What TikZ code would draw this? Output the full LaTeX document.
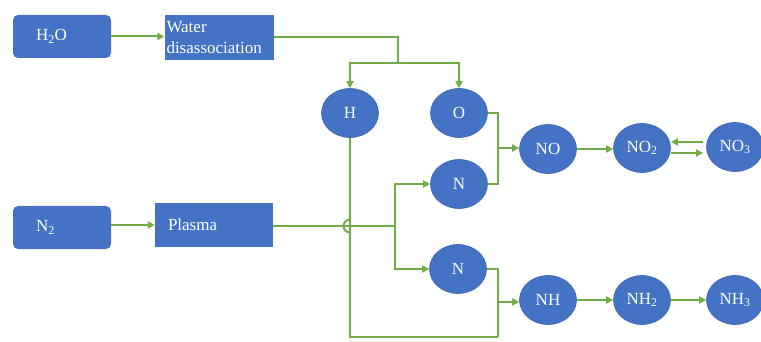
\documentclass[tikz,border=0pt]{standalone}
\usepackage{fontspec}
\setmainfont{Liberation Serif}
\usetikzlibrary{arrows.meta,shapes.geometric}
\definecolor{nodeblue}{HTML}{4472C4}
\definecolor{edgeblue}{HTML}{3A62AE}
\definecolor{linegreen}{HTML}{70AD47}
\begin{document}
\begin{tikzpicture}[x=1pt,y=-1pt,
  font=\fontsize{17}{21}\selectfont,
  boxnode/.style={rectangle, fill=nodeblue, draw=none, text=white, align=left, inner ysep=0pt},
  roundbox/.style={boxnode, rounded corners=5pt},
  blob/.style={ellipse, fill=nodeblue, draw=edgeblue, line width=0.6pt, text=white, minimum width=57pt, minimum height=49pt, inner sep=0pt},
  conn/.style={draw=linegreen, line width=2pt},
  arr/.style={conn, -{Triangle[length=7pt,width=7pt]}}]
\useasboundingbox (0,0) rectangle (761,342);
% boxes
\node[roundbox, minimum width=98pt, minimum height=43pt, text width=52pt, inner xsep=23pt] (h2o) at (62,36.5) {H\textsubscript{2}O};
\node[boxnode, minimum width=109pt, minimum height=45pt, text width=105pt, inner xsep=2pt] (water) at (219,37.5) {Water\\disassociation};
\node[roundbox, minimum width=98pt, minimum height=43pt, text width=52pt, inner xsep=23pt] (n2) at (62,227.5) {N\textsubscript{2}};
\node[boxnode, minimum width=118pt, minimum height=44pt, text width=92pt, inner xsep=13pt] (plasma) at (214,225) {Plasma};
% ellipses
\node[blob] (H) at (350,113) {H};
\node[blob] (O) at (459,113) {O};
\node[blob] (Nup) at (459,184) {N};
\node[blob] (Ndn) at (458,269) {N};
\node[blob] (NO) at (548,149) {NO};
\node[blob] (NOtwo) at (642,148) {NO\textsubscript{2}};
\node[blob] (NOthree) at (735,147) {NO\textsubscript{3}};
\node[blob] (NH) at (548,300) {NH};
\node[blob] (NHtwo) at (642,300) {NH\textsubscript{2}};
\node[blob] (NHthree) at (735,300) {NH\textsubscript{3}};
% junction points
\coordinate (split) at (398,63);
\coordinate (jo) at (498,148);
\coordinate (hop) at (350,226);
\coordinate (br) at (395,226);
\coordinate (bot) at (498,337);
\coordinate (jn) at (498,302);
\coordinate (upy) at (0,142);
\coordinate (dny) at (0,153);
% connectors
\draw[arr] (h2o.east) -- (h2o.east -| water.west);
\draw[conn] (water.east) -| (split);
\draw[arr] (split) -| (H.north);
\draw[arr] (split) -| (O.north);
\draw[conn] (O.east) -| (jo) |- (Nup.east);
\draw[arr] (jo) -- (jo -| NO.west);
\draw[arr] (NO.east) -- (NO.east -| NOtwo.west);
\draw[arr, shorten <=3pt] (NOthree.west |- upy) -- (NOtwo.east |- upy);
\draw[arr, shorten >=3pt] (NOtwo.east |- dny) -- (NOthree.west |- dny);
\draw[arr] (n2.east |- plasma.west) -- (plasma.west);
\draw[conn] (plasma.east |- br) -- (br);
\draw[conn] (hop) ++(0pt,6.5pt) arc[start angle=90, end angle=270, radius=6.5pt];
\draw[arr] (br) |- (Nup.west);
\draw[arr] (br) |- (Ndn.west);
\draw[conn] (H.south) |- (bot);
\draw[conn] (Ndn.east) -| (bot);
\draw[arr] (jn) -- (jn -| NH.west);
\draw[arr] (NH.east) -- (NHtwo.west);
\draw[arr] (NHtwo.east) -- (NHthree.west);
\end{tikzpicture}
\end{document}
